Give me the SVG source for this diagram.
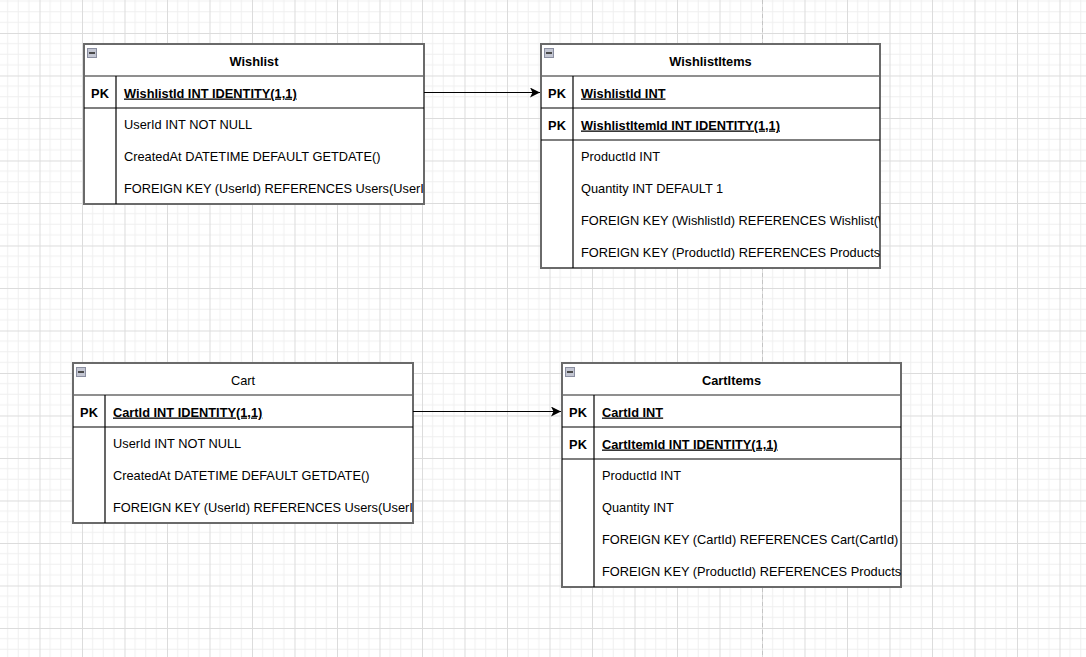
<svg xmlns="http://www.w3.org/2000/svg" width="1086" height="657" viewBox="0 0 1086 657">
<defs>
<pattern id="grid" patternUnits="userSpaceOnUse" x="39.5" y="33" width="42.5" height="42.5">
<path d="M10.625 0V42.5M21.25 0V42.5M31.875 0V42.5M0 10.625H42.5M0 21.25H42.5M0 31.875H42.5" stroke="#efefef" stroke-width="1" fill="none"/>
<path d="M0.5 0V42.5M0 0.5H42.5" stroke="#dcdcdc" stroke-width="1" fill="none"/>
</pattern>
<marker id="arr" viewBox="0 0 10 10" refX="10" refY="5" markerWidth="10" markerHeight="10" markerUnits="userSpaceOnUse" orient="auto">
<path d="M0 0L10 5L0 10L2.5 5Z" fill="#000"/>
</marker>
<clipPath id="c1"><rect x="84" y="44" width="340" height="160"/></clipPath>
<clipPath id="c2"><rect x="541" y="44" width="339" height="224"/></clipPath>
<clipPath id="c3"><rect x="73" y="363" width="340" height="160"/></clipPath>
<clipPath id="c4"><rect x="562" y="363" width="339" height="224"/></clipPath>
</defs>
<style>
text{font-family:"Liberation Sans",Arial,Helvetica,sans-serif;font-size:12.8px;fill:#000}
.t{font-weight:bold;text-anchor:middle}
.tn{text-anchor:middle}
.pk{font-weight:bold;text-anchor:middle}
.k{font-weight:bold;text-decoration:underline}
.box{fill:#fff;stroke:#6a6a6a;stroke-width:2}
.hl{stroke:#6a6a6a;stroke-width:1.5}
.sl{stroke:#000;stroke-width:1.2}
.ic{fill:#c3c6d2;stroke:#8a8ea0;stroke-width:1}
.icm{stroke:#4a4a4a;stroke-width:2}
.conn{stroke:#000;stroke-width:1.2;fill:none}
</style>
<rect width="1086" height="657" fill="#fff"/>
<rect width="1086" height="657" fill="url(#grid)"/>
<line x1="762.5" y1="0" x2="762.5" y2="657" stroke="#c4c4c4" stroke-width="1" stroke-dasharray="4 3"/>

<g id="wishlist">
<rect class="box" x="84" y="44" width="340" height="160"/>
<rect class="ic" x="87.5" y="48.5" width="9" height="9"/><line class="icm" x1="89" y1="53" x2="95" y2="53"/>
<line class="hl" x1="84" y1="76" x2="424" y2="76"/>
<line class="sl" x1="84" y1="108" x2="424" y2="108"/>
<line class="sl" x1="116" y1="76" x2="116" y2="204"/>
<text class="t" x="254" y="65.5">Wishlist</text>
<g clip-path="url(#c1)">
<text class="pk" x="100" y="97.5">PK</text>
<text class="k" x="124" y="97.5">WishlistId INT IDENTITY(1,1)</text>
<text x="124" y="129">UserId INT NOT NULL</text>
<text x="124" y="161">CreatedAt DATETIME DEFAULT GETDATE()</text>
<text x="124" y="193">FOREIGN KEY (UserId) REFERENCES Users(UserId)</text>
</g>
</g>

<g id="wishlistitems">
<rect class="box" x="541" y="44" width="339" height="224"/>
<rect class="ic" x="544.5" y="48.5" width="9" height="9"/><line class="icm" x1="546" y1="53" x2="552" y2="53"/>
<line class="hl" x1="541" y1="76" x2="880" y2="76"/>
<line class="sl" x1="541" y1="108" x2="880" y2="108"/>
<line class="sl" x1="541" y1="140" x2="880" y2="140"/>
<line class="sl" x1="573" y1="76" x2="573" y2="268"/>
<text class="t" x="710.5" y="65.5">WishlistItems</text>
<g clip-path="url(#c2)">
<text class="pk" x="557" y="97.5">PK</text>
<text class="k" x="581" y="97.5">WishlistId INT</text>
<text class="pk" x="557" y="129.5">PK</text>
<text class="k" x="581" y="129.5">WishlistItemId INT IDENTITY(1,1)</text>
<text x="581" y="161">ProductId INT</text>
<text x="581" y="193">Quantity INT DEFAULT 1</text>
<text x="581" y="225">FOREIGN KEY (WishlistId) REFERENCES Wishlist(WishlistId)</text>
<text x="581" y="257">FOREIGN KEY (ProductId) REFERENCES Products(ProductId)</text>
</g>
</g>

<g id="cart">
<rect class="box" x="73" y="363" width="340" height="160"/>
<rect class="ic" x="76.5" y="367.5" width="9" height="9"/><line class="icm" x1="78" y1="372" x2="84" y2="372"/>
<line class="hl" x1="73" y1="395" x2="413" y2="395"/>
<line class="sl" x1="73" y1="427" x2="413" y2="427"/>
<line class="sl" x1="105" y1="395" x2="105" y2="523"/>
<text class="tn" x="243" y="384.5">Cart</text>
<g clip-path="url(#c3)">
<text class="pk" x="89" y="416.5">PK</text>
<text class="k" x="113" y="416.5">CartId INT IDENTITY(1,1)</text>
<text x="113" y="448">UserId INT NOT NULL</text>
<text x="113" y="480">CreatedAt DATETIME DEFAULT GETDATE()</text>
<text x="113" y="512">FOREIGN KEY (UserId) REFERENCES Users(UserId)</text>
</g>
</g>

<g id="cartitems">
<rect class="box" x="562" y="363" width="339" height="224"/>
<rect class="ic" x="565.5" y="367.5" width="9" height="9"/><line class="icm" x1="567" y1="372" x2="573" y2="372"/>
<line class="hl" x1="562" y1="395" x2="901" y2="395"/>
<line class="sl" x1="562" y1="427" x2="901" y2="427"/>
<line class="sl" x1="562" y1="459" x2="901" y2="459"/>
<line class="sl" x1="594" y1="395" x2="594" y2="587"/>
<text class="t" x="731.5" y="384.5">CartItems</text>
<g clip-path="url(#c4)">
<text class="pk" x="578" y="416.5">PK</text>
<text class="k" x="602" y="416.5">CartId INT</text>
<text class="pk" x="578" y="448.5">PK</text>
<text class="k" x="602" y="448.5">CartItemId INT IDENTITY(1,1)</text>
<text x="602" y="480">ProductId INT</text>
<text x="602" y="512">Quantity INT</text>
<text x="602" y="544">FOREIGN KEY (CartId) REFERENCES Cart(CartId)</text>
<text x="602" y="576">FOREIGN KEY (ProductId) REFERENCES Products(ProductId)</text>
</g>
</g>

<g id="connectors">
<path class="conn" d="M424 92.5H540" marker-end="url(#arr)"/>
<path class="conn" d="M413 411.5H561" marker-end="url(#arr)"/>
</g>
</svg>
